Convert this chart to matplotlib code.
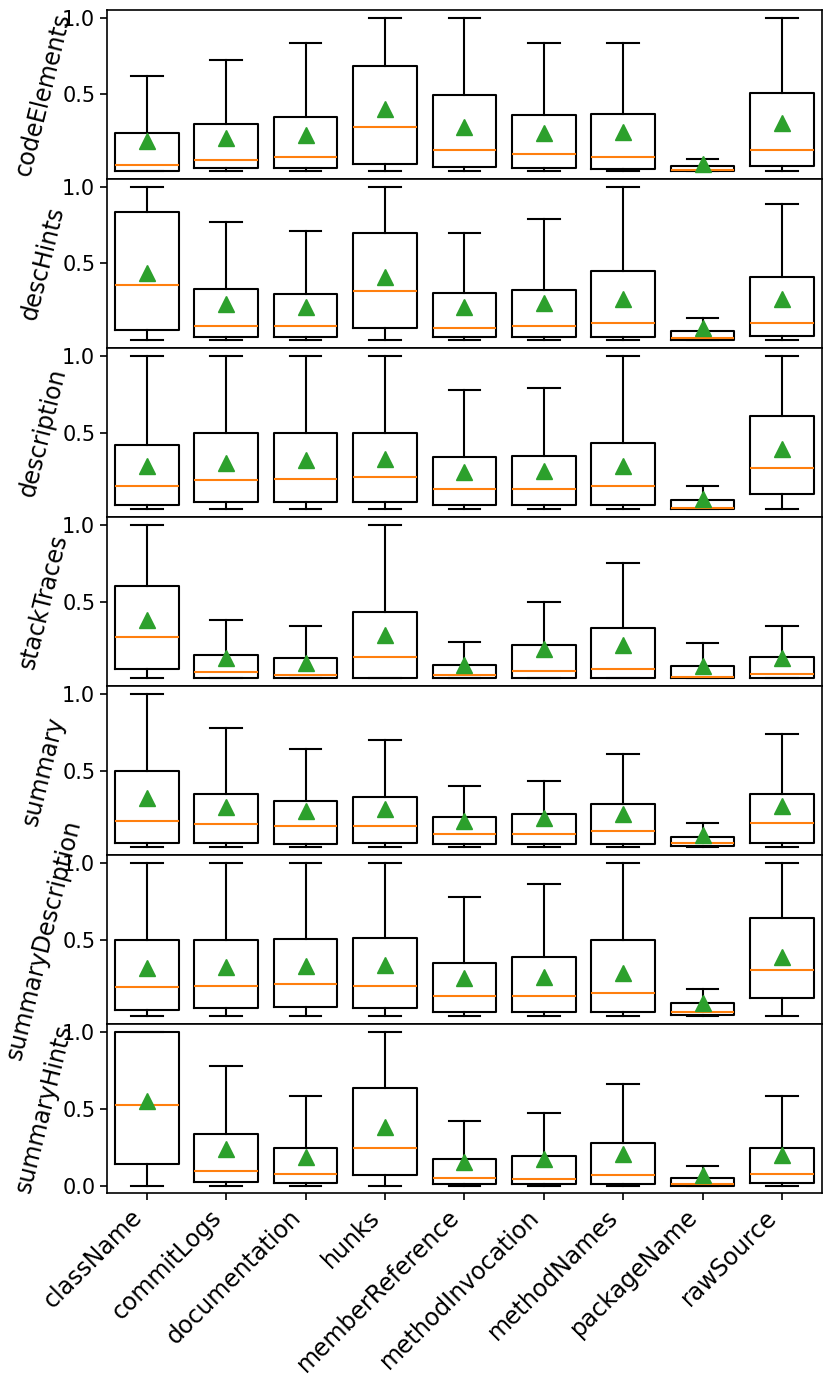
import matplotlib
matplotlib.use("Agg")
import matplotlib.pyplot as plt

categories = ["className", "commitLogs", "documentation", "hunks", "memberReference",
              "methodInvocation", "methodNames", "packageName", "rawSource"]
panels = ["codeElements", "descHints", "description", "stackTraces", "summary",
          "summaryDescription", "summaryHints"]

# per panel: lists over categories
whislo = {p: [0.0] * 9 for p in panels}
q1 = {
    "codeElements":       [0.004, 0.019, 0.019, 0.05, 0.026, 0.019, 0.013, 0.0, 0.034],
    "descHints":          [0.067, 0.021, 0.021, 0.078, 0.02, 0.02, 0.02, 0.0, 0.028],
    "description":        [0.03, 0.05, 0.05, 0.05, 0.03, 0.03, 0.03, 0.0, 0.10],
    "stackTraces":        [0.06, 0.0, 0.0, 0.0, 0.0, 0.0, 0.0, 0.0, 0.0],
    "summary":            [0.03, 0.03, 0.02, 0.03, 0.02, 0.02, 0.02, 0.01, 0.03],
    "summaryDescription": [0.041, 0.052, 0.063, 0.052, 0.03, 0.03, 0.03, 0.01, 0.12],
    "summaryHints":       [0.139, 0.021, 0.017, 0.067, 0.007, 0.007, 0.007, 0.0, 0.017],
}
med = {
    "codeElements":       [0.039, 0.073, 0.091, 0.29, 0.136, 0.112, 0.093, 0.009, 0.139],
    "descHints":          [0.36, 0.095, 0.093, 0.319, 0.08, 0.09, 0.11, 0.015, 0.113],
    "description":        [0.15, 0.19, 0.20, 0.21, 0.13, 0.13, 0.15, 0.01, 0.27],
    "stackTraces":        [0.27, 0.04, 0.02, 0.14, 0.02, 0.05, 0.06, 0.01, 0.03],
    "summary":            [0.17, 0.15, 0.14, 0.14, 0.09, 0.09, 0.11, 0.03, 0.16],
    "summaryDescription": [0.193, 0.197, 0.21, 0.20, 0.13, 0.13, 0.15, 0.03, 0.30],
    "summaryHints":       [0.523, 0.097, 0.073, 0.245, 0.05, 0.04, 0.067, 0.008, 0.076],
}
q3 = {
    "codeElements":       [0.251, 0.306, 0.351, 0.685, 0.499, 0.364, 0.373, 0.037, 0.512],
    "descHints":          [0.833, 0.334, 0.30, 0.70, 0.31, 0.33, 0.45, 0.06, 0.41],
    "description":        [0.42, 0.50, 0.50, 0.50, 0.34, 0.35, 0.43, 0.06, 0.61],
    "stackTraces":        [0.60, 0.15, 0.13, 0.43, 0.09, 0.22, 0.33, 0.08, 0.14],
    "summary":            [0.50, 0.35, 0.30, 0.33, 0.20, 0.22, 0.28, 0.07, 0.35],
    "summaryDescription": [0.497, 0.497, 0.501, 0.51, 0.35, 0.39, 0.50, 0.09, 0.64],
    "summaryHints":       [1.0, 0.332, 0.245, 0.635, 0.175, 0.195, 0.275, 0.052, 0.247],
}
whishi = {
    "codeElements":       [0.622, 0.724, 0.833, 1.0, 1.0, 0.833, 0.833, 0.08, 1.0],
    "descHints":          [1.0, 0.768, 0.711, 1.0, 0.70, 0.79, 1.0, 0.145, 0.887],
    "description":        [1.0, 1.0, 1.0, 1.0, 0.78, 0.79, 1.0, 0.15, 1.0],
    "stackTraces":        [1.0, 0.38, 0.34, 1.0, 0.24, 0.50, 0.75, 0.23, 0.34],
    "summary":            [1.0, 0.78, 0.64, 0.70, 0.40, 0.43, 0.61, 0.16, 0.74],
    "summaryDescription": [1.0, 1.0, 1.0, 1.0, 0.78, 0.86, 1.0, 0.18, 1.0],
    "summaryHints":       [1.0, 0.778, 0.583, 1.0, 0.419, 0.469, 0.661, 0.126, 0.585],
}
mean = {
    "codeElements":       [0.195, 0.215, 0.238, 0.403, 0.288, 0.251, 0.255, 0.05, 0.315],
    "descHints":          [0.438, 0.237, 0.219, 0.412, 0.22, 0.24, 0.27, 0.08, 0.267],
    "description":        [0.28, 0.30, 0.32, 0.33, 0.24, 0.25, 0.28, 0.07, 0.39],
    "stackTraces":        [0.38, 0.13, 0.10, 0.28, 0.09, 0.19, 0.22, 0.08, 0.13],
    "summary":            [0.32, 0.26, 0.24, 0.25, 0.17, 0.19, 0.22, 0.08, 0.27],
    "summaryDescription": [0.314, 0.32, 0.33, 0.335, 0.25, 0.26, 0.28, 0.09, 0.39],
    "summaryHints":       [0.547, 0.238, 0.188, 0.381, 0.153, 0.17, 0.207, 0.069, 0.197],
}

FS_TICK = 15
FS_LAB = 17
plt.rcParams["font.family"] = ["DejaVu Sans"]

fig, axes = plt.subplots(len(panels), 1, figsize=(8.3, 13.81), dpi=100, sharex=True)
fig.subplots_adjust(left=0.129, right=0.990, top=0.9928, bottom=0.136, hspace=0)

lw = 1.5
for i, (ax, p) in enumerate(zip(axes, panels)):
    stats = []
    for j, c in enumerate(categories):
        stats.append(dict(label=c, whislo=whislo[p][j], q1=q1[p][j], med=med[p][j],
                          q3=q3[p][j], whishi=whishi[p][j], mean=mean[p][j], fliers=[]))
    ax.bxp(stats, showmeans=True, showfliers=False, widths=0.8,
           boxprops=dict(color="black", linewidth=lw),
           whiskerprops=dict(color="black", linewidth=lw),
           capprops=dict(color="black", linewidth=lw),
           medianprops=dict(color="#ff7f0e", linewidth=lw),
           meanprops=dict(marker="^", markerfacecolor="#2ca02c", markeredgecolor="#2ca02c",
                          markersize=11))
    ax.set_ylim(-0.05, 1.05)
    ax.set_xlim(0.5, len(categories) + 0.5)
    if i < len(panels) - 1:
        ax.set_yticks([0.5, 1.0])
    else:
        ax.set_yticks([0.0, 0.5, 1.0])
    ax.tick_params(axis="y", labelsize=FS_TICK, length=5, width=1.2)
    ax.tick_params(axis="x", labelsize=FS_LAB, length=5, width=1.2)
    for s in ax.spines.values():
        s.set_linewidth(1.2)
    ax.set_ylabel(p, fontsize=FS_LAB, rotation=76)
    lab = ax.yaxis.label
    lab.set_rotation_mode("default")
    lab.set_ha("center")
    lab.set_va("center")
    ax.yaxis.set_label_coords(-0.089, 0.5)

axes[-1].set_xticks(range(1, len(categories) + 1))
axes[-1].set_xticklabels(categories, rotation=45, ha="right", rotation_mode="default",
                         fontsize=FS_LAB)

fig.savefig("out.png", dpi=100)
